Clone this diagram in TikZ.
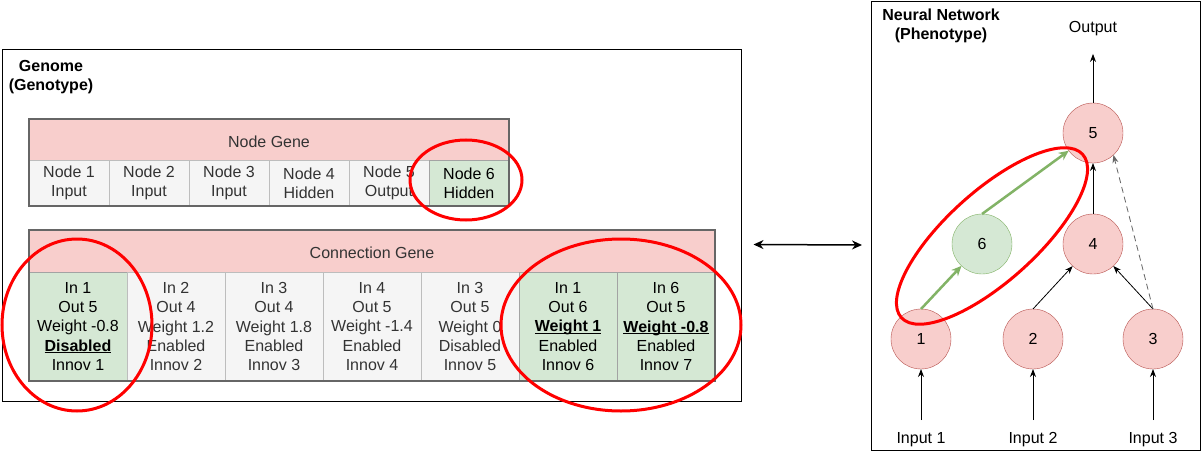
\documentclass[tikz,border=0pt]{standalone}
\usepackage{fontspec}
\setmainfont{Liberation Sans}
\usetikzlibrary{arrows.meta}
\definecolor{redfill}{HTML}{F8CECC}
\definecolor{redline}{HTML}{B85450}
\definecolor{greenfill}{HTML}{D5E8D4}
\definecolor{greenline}{HTML}{82B366}
\definecolor{grayfill}{HTML}{F5F5F5}
\definecolor{grayline}{HTML}{BDBDBD}
\definecolor{darkline}{HTML}{666666}
\definecolor{textgray}{HTML}{333333}
\definecolor{ringred}{HTML}{FF0000}
\newcommand\ulbf[1]{\setbox0\hbox{\textbf{#1}}\rlap{\rule[-2.2pt]{\wd0}{1.1pt}}\box0}
\tikzset{
  base/.style={font=\fontsize{16}{19.2}\selectfont},
  lower/.style={execute at begin node={\rule{0pt}{15.5pt}}},
  cell/.style={draw=grayline, fill=grayfill, text=textgray, inner sep=0pt, outer sep=0pt, align=center, line width=0.8pt, lower},
  ncell/.style={cell, minimum width=80pt, minimum height=46pt},
  ccell/.style={cell, minimum width=98pt, minimum height=109pt},
  gcell/.style={fill=greenfill, draw=darkline!60, text=black},
  header/.style={draw=darkline, fill=redfill, text=textgray, inner sep=0pt, outer sep=0pt, line width=1pt, lower},
  frame/.style={draw=darkline, line width=1.2pt},
  neuron/.style={circle, draw=redline, fill=redfill, minimum size=60pt, inner sep=0pt, outer sep=0pt},
  gneuron/.style={circle, draw=greenline, fill=greenfill, minimum size=60pt, inner sep=0pt, outer sep=0pt},
  lbl/.style={lower},
  arr/.style={draw=black, line width=0.8pt, -{Stealth[length=8pt,width=6pt]}},
  garr/.style={draw=greenline, line width=2.5pt, -{Stealth[length=10pt,width=9pt]}},
  darr/.style={draw=darkline, line width=0.8pt, dash pattern=on 6pt off 4pt, -{Stealth[length=8pt,width=6pt]}},
  dbl/.style={draw=black, line width=1.5pt, {Stealth[length=10pt,width=9pt]}-{Stealth[length=10pt,width=9pt]}},
  redring/.style={draw=ringred, line width=3pt},
  title/.style={font=\fontsize{16}{19.2}\selectfont\bfseries, align=center, lower}
}
\begin{document}
\begin{tikzpicture}[x=1pt,y=-1pt,base]
\useasboundingbox (0,0) rectangle (1203,452);
\fill[white] (0,0) rectangle (1203,452);

% boxes
\node[draw=black, line width=1pt, minimum width=739pt, minimum height=351pt, anchor=north west, inner sep=0pt] (genome) at (1.5,49.5) {};
\node[draw=black, line width=1pt, minimum width=329pt, minimum height=449pt, anchor=north west, inner sep=0pt] (nn) at (871,1) {};
\node[title] (gtitle) at (51,77) {Genome\\(Genotype)};
\node[title] (nntitle) at (941,26) {Neural Network\\(Phenotype)};

% node gene table
\node[header, minimum width=480pt, minimum height=41pt] (nghead) at (269,139.5) {Node Gene};
\node[ncell] (n1) at (69,183) {Node 1\\Input};
\node[ncell] (n2) at (149,183) {Node 2\\Input};
\node[ncell] (n3) at (229,183) {Node 3\\Input};
\node[ncell] (n4) at (309,183) {Node 4\\Hidden};
\node[ncell] (n5) at (389,183) {Node 5\\Output};
\node[ncell, gcell] (n6) at (469,183) {Node 6\\Hidden};
\draw[frame] (nghead.north west) rectangle (n6.south east);

% connection gene table
\node[header, minimum width=686pt, minimum height=42pt] (cghead) at (372,251) {Connection Gene};
\node[ccell, gcell] (g1) at (78,326.5) {In 1\\Out 5\\Weight -0.8\\\ulbf{Disabled}\\Innov 1};
\node[ccell] (g2) at (176,326.5) {In 2\\Out 4\\Weight 1.2\\Enabled\\Innov 2};
\node[ccell] (g3) at (274,326.5) {In 3\\Out 4\\Weight 1.8\\Enabled\\Innov 3};
\node[ccell] (g4) at (372,326.5) {In 4\\Out 5\\Weight -1.4\\Enabled\\Innov 4};
\node[ccell] (g5) at (470,326.5) {In 3\\Out 5\\Weight 0\\Disabled\\Innov 5};
\node[ccell, gcell] (g6) at (568,326.5) {In 1\\Out 6\\\ulbf{Weight 1}\\Enabled\\Innov 6};
\node[ccell, gcell] (g7) at (666,326.5) {In 6\\Out 5\\\ulbf{Weight -0.8}\\Enabled\\Innov 7};
\draw[frame] (cghead.north west) rectangle (g7.south east);

% red rings on genome
\draw[redring] (466,180) ellipse [x radius=56, y radius=40];
\draw[redring] (77,325) ellipse [x radius=75, y radius=86];
\draw[redring] (621,325) ellipse [x radius=120, y radius=86];

% double arrow
\draw[dbl] ([xshift=12pt,yshift=-19pt]genome.east) -- ([xshift=-9pt,yshift=-19pt]nn.west);

% network
\node[lbl] (out) at (1093,26) {Output};
\node[neuron] (c5) at (1093,133) {5};
\node[neuron] (c4) at (1093,244) {4};
\node[gneuron] (c6) at (982,244) {6};
\node[neuron] (c1) at (921,339) {1};
\node[neuron] (c2) at (1033,339) {2};
\node[neuron] (c3) at (1153,339) {3};
\node[lbl] (in1) at (921,437) {Input 1};
\node[lbl] (in2) at (1033,437) {Input 2};
\node[lbl] (in3) at (1153,437) {Input 3};

\draw[arr, shorten <=4pt] (in1) -- (c1);
\draw[arr, shorten <=4pt] (in2) -- (c2);
\draw[arr, shorten <=4pt] (in3) -- (c3);
\draw[arr, shorten >=15pt] (c5) -- (out);
\draw[arr] (c4) -- (c5);
\draw[arr] (c2.north) -- (c4);
\draw[arr] (c3.north) -- (c4);
\draw[darr] (c3.north) -- (c5.-47);
\draw[garr] (c1.north) -- (c6);
\draw[garr] (c6.north) -- (c5);

\begin{scope}[shift={(992,236)}, rotate=42]
\draw[redring] (0,0) ellipse [x radius=122pt, y radius=45pt];
\end{scope}
\end{tikzpicture}
\end{document}
